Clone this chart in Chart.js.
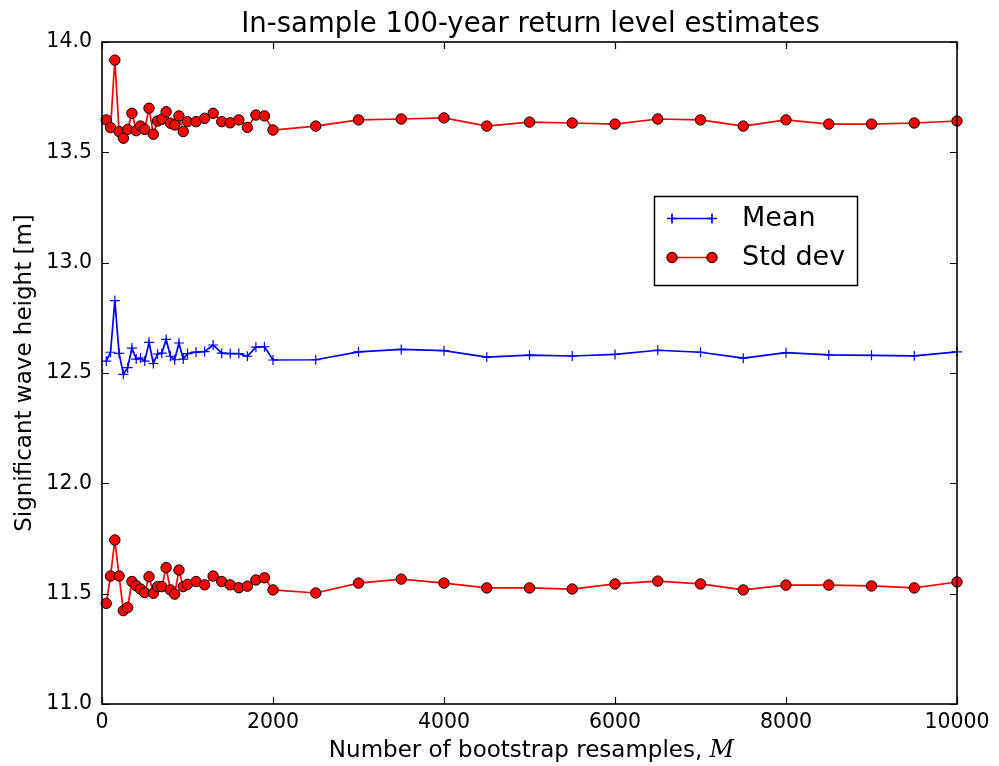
<!DOCTYPE html>
<html>
<head>
<meta charset="utf-8">
<script src="https://cdn.jsdelivr.net/npm/chart.js@4.4.1/dist/chart.umd.min.js"></script>
<style>
  html, body { margin: 0; padding: 0; background: #fff; }
  #wrap { width: 999px; height: 766px; }
</style>
</head>
<body>
<div id="wrap"><canvas id="chart" width="999" height="766"></canvas></div>
<script>
// number of bootstrap resamples M
const resamples = [
  50, 100, 150, 200, 250, 300, 350, 400, 450, 500,
  550, 600, 650, 700, 750, 800, 850, 900, 950, 1000,
  1100, 1200, 1300, 1400, 1500, 1600, 1700, 1800, 1900, 2000,
  2500, 3000, 3500, 4000, 4500, 5000, 5500, 6000, 6500, 7000,
  7500, 8000, 8500, 9000, 9500, 10000
];
// mean return level [m]
const meanLevel = [
  12.554, 12.594, 12.828, 12.589, 12.494, 12.524, 12.613, 12.563, 12.568, 12.554,
  12.639, 12.543, 12.586, 12.590, 12.652, 12.576, 12.560, 12.636, 12.563, 12.588,
  12.595, 12.597, 12.627, 12.590, 12.588, 12.588, 12.576, 12.617, 12.619, 12.559,
  12.560, 12.596, 12.607, 12.601, 12.572, 12.581, 12.577, 12.584, 12.603, 12.594,
  12.567, 12.592, 12.582, 12.580, 12.578, 12.596
];
// mean + std dev
const upperLevel = [
  13.647, 13.612, 13.918, 13.594, 13.564, 13.604, 13.677, 13.598, 13.619, 13.604,
  13.700, 13.582, 13.642, 13.650, 13.684, 13.632, 13.624, 13.665, 13.594, 13.639,
  13.639, 13.654, 13.677, 13.639, 13.634, 13.647, 13.613, 13.669, 13.665, 13.601,
  13.619, 13.647, 13.651, 13.656, 13.619, 13.637, 13.633, 13.628, 13.651, 13.647,
  13.619, 13.647, 13.628, 13.628, 13.633, 13.642
];
// mean - std dev
const lowerLevel = [
  11.456, 11.580, 11.743, 11.580, 11.423, 11.437, 11.555, 11.536, 11.521, 11.505,
  11.577, 11.502, 11.532, 11.532, 11.618, 11.517, 11.498, 11.607, 11.532, 11.542,
  11.555, 11.540, 11.580, 11.555, 11.540, 11.527, 11.534, 11.562, 11.572, 11.517,
  11.503, 11.548, 11.566, 11.548, 11.526, 11.526, 11.521, 11.544, 11.557, 11.544,
  11.517, 11.539, 11.539, 11.535, 11.526, 11.553
];
const xTicks = [0, 2000, 4000, 6000, 8000, 10000];
const yTicks = [11.0, 11.5, 12.0, 12.5, 13.0, 13.5, 14.0];

const FONT = "'DejaVu Sans', sans-serif";

function pts(ys) {
  return resamples.map((x, i) => ({ x: x, y: ys[i] }));
}

// title, x label (with italic M), inward ticks, frame, legend
const decorations = {
  id: "decorations",
  afterDraw(chart) {
    const { ctx, chartArea: a, scales } = chart;
    ctx.save();

    // inward tick marks on all four sides
    ctx.strokeStyle = "#000";
    ctx.lineWidth = 1.2;
    const tl = 7;
    xTicks.forEach(v => {
      const px = Math.round(scales.x.getPixelForValue(v)) + 0.5;
      ctx.beginPath();
      ctx.moveTo(px, a.bottom); ctx.lineTo(px, a.bottom - tl);
      ctx.moveTo(px, a.top); ctx.lineTo(px, a.top + tl);
      ctx.stroke();
    });
    yTicks.forEach(v => {
      const py = Math.round(scales.y.getPixelForValue(v)) + 0.5;
      ctx.beginPath();
      ctx.moveTo(a.left, py); ctx.lineTo(a.left + tl, py);
      ctx.moveTo(a.right, py); ctx.lineTo(a.right - tl, py);
      ctx.stroke();
    });

    // frame
    ctx.lineWidth = 1.6;
    ctx.strokeRect(a.left, a.top, a.right - a.left, a.bottom - a.top);

    // title
    ctx.fillStyle = "#000";
    ctx.textAlign = "center";
    ctx.textBaseline = "alphabetic";
    ctx.font = "27.5px " + FONT;
    const cx = (a.left + a.right) / 2;
    ctx.fillText("In-sample 100-year return level estimates", cx + 1, 32);

    // x axis label
    const part1 = "Number of bootstrap resamples, ";
    ctx.font = "23px " + FONT;
    const w1 = ctx.measureText(part1).width;
    ctx.font = "italic 24px 'DejaVu Serif', serif";
    const w2 = ctx.measureText("M").width;
    let sx = cx + 2 - (w1 + w2) / 2;
    ctx.textAlign = "left";
    ctx.font = "23px " + FONT;
    ctx.fillText(part1, sx, 757);
    ctx.font = "italic 24px 'DejaVu Serif', serif";
    ctx.fillText("M", sx + w1, 757);

    // legend
    const bx = 654, by = 196, bw = 203, bh = 89;
    ctx.fillStyle = "#fff";
    ctx.fillRect(bx, by, bw, bh);
    ctx.strokeStyle = "#000";
    ctx.lineWidth = 1.5;
    ctx.strokeRect(bx + 0.5, by + 0.5, bw, bh);

    const lx1 = 672, lx2 = 712;
    // Mean entry
    let ly = 218.5;
    ctx.strokeStyle = "#0000ff";
    ctx.lineWidth = 1.7;
    ctx.beginPath(); ctx.moveTo(lx1, ly); ctx.lineTo(lx2, ly); ctx.stroke();
    [lx1, lx2].forEach(x => {
      ctx.beginPath();
      ctx.moveTo(x - 5, ly); ctx.lineTo(x + 5, ly);
      ctx.moveTo(x, ly - 5); ctx.lineTo(x, ly + 5);
      ctx.stroke();
    });
    // Std dev entry
    ly = 257.5;
    ctx.strokeStyle = "#ff0000";
    ctx.beginPath(); ctx.moveTo(lx1, ly); ctx.lineTo(lx2, ly); ctx.stroke();
    [lx1, lx2].forEach(x => {
      ctx.beginPath();
      ctx.arc(x, ly, 5.2, 0, Math.PI * 2);
      ctx.fillStyle = "#ff0000";
      ctx.fill();
      ctx.strokeStyle = "#000";
      ctx.lineWidth = 1;
      ctx.stroke();
    });

    ctx.fillStyle = "#000";
    ctx.font = "27px " + FONT;
    ctx.textBaseline = "middle";
    ctx.fillText("Mean", 742, 219);
    ctx.fillText("Std dev", 742, 258);

    ctx.restore();
  }
};

const redStyle = {
  borderColor: "#ff0000",
  backgroundColor: "#ff0000",
  borderWidth: 1.7,
  pointStyle: "circle",
  pointRadius: 5.2,
  pointHoverRadius: 5.2,
  pointBackgroundColor: "#ff0000",
  pointBorderColor: "#000000",
  pointBorderWidth: 1,
  tension: 0,
  clip: false
};

new Chart(document.getElementById("chart").getContext("2d"), {
  type: "line",
  data: {
    datasets: [
      Object.assign({ label: "Std dev", data: pts(upperLevel) }, redStyle),
      Object.assign({ label: "Std dev (lower)", data: pts(lowerLevel) }, redStyle),
      {
        label: "Mean",
        data: pts(meanLevel),
        borderColor: "#0000ff",
        backgroundColor: "#0000ff",
        borderWidth: 1.7,
        pointStyle: "cross",
        pointRadius: 5,
        pointHoverRadius: 5,
        pointBorderColor: "#0000ff",
        pointBorderWidth: 1.2,
        tension: 0,
        clip: false
      }
    ]
  },
  options: {
    responsive: false,
    animation: false,
    events: [],
    layout: { padding: { top: 42, right: 42, bottom: 0, left: 0 } },
    plugins: {
      legend: { display: false },
      title: { display: false },
      tooltip: { enabled: false }
    },
    scales: {
      x: {
        type: "linear",
        min: 0,
        max: 10000,
        afterBuildTicks: s => { s.ticks = xTicks.map(v => ({ value: v })); },
        afterFit: s => { s.height = 62; },
        grid: { display: false, drawTicks: false },
        border: { display: false },
        ticks: {
          color: "#000",
          font: { family: FONT, size: 20.5 },
          padding: 6,
          maxRotation: 0,
          callback: v => String(v)
        }
      },
      y: {
        type: "linear",
        min: 11,
        max: 14,
        afterBuildTicks: s => { s.ticks = yTicks.map(v => ({ value: v })); },
        afterFit: s => { s.width = 102; },
        grid: { display: false, drawTicks: false },
        border: { display: false },
        title: {
          display: true,
          text: "Significant wave height [m]",
          color: "#000",
          font: { family: FONT, size: 23 },
          padding: { top: 11, bottom: 0 }
        },
        ticks: {
          color: "#000",
          font: { family: FONT, size: 20.5 },
          padding: 10,
          callback: v => Number(v).toFixed(1)
        }
      }
    }
  },
  plugins: [decorations]
});
</script>
</body>
</html>
